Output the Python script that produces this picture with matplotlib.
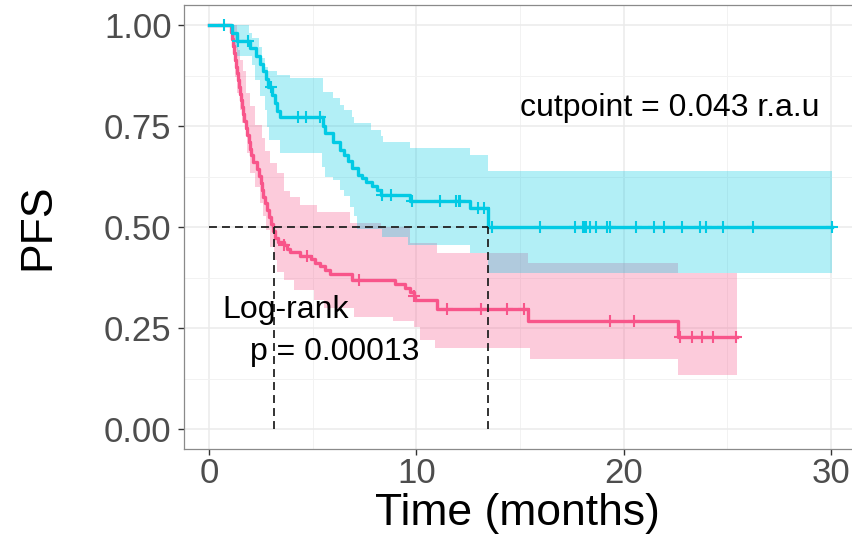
import numpy as np
import matplotlib
matplotlib.use("Agg")
import matplotlib.pyplot as plt

plt.rcParams['font.family'] = ['Liberation Sans', 'DejaVu Sans']

# ---- data (time in months, PFS) ----
# pink group (lower survival)
pink_t = [0, 1.05, 1.1, 1.15, 1.2, 1.25, 1.3, 1.36, 1.42, 1.47, 1.52, 1.56, 1.6,
          1.65, 1.7, 1.78, 1.85, 1.92, 1.98, 2.05, 2.15, 2.3, 2.4, 2.5, 2.56,
          2.62, 2.7, 2.78, 2.9, 3.0, 3.1, 3.2, 3.35, 3.6, 3.77, 3.93, 4.4, 4.9,
          5.13, 5.37, 5.6, 5.86, 6.9, 8.99, 9.47, 9.71, 9.87, 9.95, 11.0, 15.4,
          22.64]
pink_s = [1.0, 0.983, 0.966, 0.949, 0.932, 0.915, 0.898, 0.881, 0.864, 0.847,
          0.831, 0.814, 0.797, 0.780, 0.763, 0.746, 0.729, 0.712, 0.695, 0.678,
          0.661, 0.644, 0.627, 0.610, 0.593, 0.576, 0.559, 0.542, 0.525, 0.508,
          0.491, 0.474, 0.463, 0.455, 0.447, 0.439, 0.430, 0.421, 0.412, 0.403,
          0.394, 0.385, 0.370, 0.360, 0.350, 0.340, 0.330, 0.320, 0.298, 0.268,
          0.228]
pink_end = 25.45
pink_cens = [3.6, 4.75, 7.25, 9.9, 11.5, 13.1, 14.4, 15.2, 19.35, 20.5, 22.7,
             23.3, 23.8, 24.3, 25.4]
pink_up_t = [1.0, 1.35, 1.42, 1.5, 1.66, 1.8, 1.99, 2.2, 2.55, 2.72, 2.96, 3.28,
             3.6, 3.93, 4.4, 5.2, 6.8, 8.3, 9.7, 11.0, 15.4, 22.64]
pink_up_s = [1.0, 0.98, 0.94, 0.915, 0.886, 0.832, 0.80, 0.754, 0.72, 0.69,
             0.659, 0.634, 0.59, 0.576, 0.556, 0.539, 0.51, 0.50, 0.461, 0.436,
             0.411, 0.386]
pink_lo_t = [1.0, 1.12, 1.2, 1.28, 1.36, 1.48, 1.6, 1.84, 2.0, 2.2, 2.48, 2.6,
             2.75, 2.96, 3.12, 3.28, 3.6, 4.08, 5.05, 5.53, 7.0, 8.9, 9.87, 10.2,
             10.9, 15.5, 22.64]
pink_lo_s = [0.985, 0.956, 0.915, 0.873, 0.832, 0.791, 0.758, 0.683, 0.634, 0.60,
             0.56, 0.527, 0.494, 0.452, 0.419, 0.39, 0.37, 0.345, 0.32, 0.30,
             0.279, 0.267, 0.254, 0.221, 0.202, 0.174, 0.135]

# cyan group (higher survival)
cyan_t = [0, 1.1, 1.35, 2.0, 2.25, 2.45, 2.6, 2.75, 2.85, 3.05, 3.2, 3.3, 3.45,
          5.5, 5.6, 6.0, 6.3, 6.5, 6.7, 6.9, 7.2, 7.4, 7.6, 7.85, 8.1, 8.3, 9.7,
          12.6, 13.45]
cyan_s = [1.0, 0.981, 0.962, 0.943, 0.924, 0.905, 0.886, 0.867, 0.848, 0.828,
          0.809, 0.789, 0.772, 0.75, 0.733, 0.712, 0.692, 0.680, 0.665, 0.647,
          0.630, 0.622, 0.612, 0.603, 0.593, 0.580, 0.564, 0.547, 0.500]
cyan_end = 30.03
cyan_cens = [0.75, 1.4, 1.9, 3.0, 4.3, 4.7, 5.35, 8.35, 8.8, 9.8, 11.15, 11.9,
             12.05, 12.1, 13.0, 13.25, 13.65, 15.97, 17.66, 18.03, 18.1, 18.19,
             18.39, 18.66, 19.19, 19.35, 20.6, 21.48, 21.96, 22.8, 23.69, 23.96,
             24.81, 26.23, 30.03]
cyan_up_t = [1.1, 1.92, 2.08, 2.4, 2.55, 2.7, 2.87, 3.3, 3.93, 5.5, 6.0, 6.3,
             6.5, 6.9, 7.0, 7.8, 8.3, 8.4, 9.7, 12.6, 13.45]
cyan_up_s = [1.0, 0.98, 0.968, 0.947, 0.919, 0.898, 0.886, 0.877, 0.869, 0.835,
             0.82, 0.803, 0.79, 0.774, 0.758, 0.741, 0.725, 0.712, 0.696, 0.679,
             0.64]
cyan_lo_t = [1.1, 1.35, 2.08, 2.24, 2.48, 2.72, 2.8, 2.88, 3.45, 5.45, 5.6, 6.0,
             6.34, 6.5, 6.82, 6.98, 7.14, 8.35, 9.6, 12.6, 13.45]
cyan_lo_s = [0.945, 0.923, 0.902, 0.865, 0.824, 0.791, 0.749, 0.717, 0.685, 0.65,
             0.624, 0.617, 0.593, 0.578, 0.551, 0.527, 0.495, 0.477, 0.457,
             0.436, 0.386]

medians = [3.12, 13.45]

pink_col = '#F8558A'
cyan_col = '#02CAE4'


def step_at(t, knots, vals):
    idx = np.searchsorted(knots, t, side='right') - 1
    return np.asarray(vals)[np.clip(idx, 0, None)]


def band(ax, ut, us, lt, ls, t_end, col):
    grid = np.unique(np.concatenate([ut, lt, [t_end]]))
    up = step_at(grid, ut, us)
    lo = step_at(grid, lt, ls)
    ax.fill_between(grid, lo, up, step='post', color=col, alpha=0.3, lw=0)


def curve(ax, t, s, t_end, cens, col):
    ax.step(np.r_[t, t_end], np.r_[s, s[-1]], where='post', color=col, lw=2.4)
    ax.plot(cens, step_at(cens, t, s), ls='none', marker='+', ms=9, mew=1.5,
            color=col)


fig = plt.figure(figsize=(8.52, 5.4), dpi=100)
ax = fig.add_axes([0.216, 0.1678, 0.7958, 0.8226])

band(ax, pink_up_t, pink_up_s, pink_lo_t, pink_lo_s, pink_end, pink_col)
band(ax, cyan_up_t, cyan_up_s, cyan_lo_t, cyan_lo_s, cyan_end, cyan_col)
curve(ax, pink_t, pink_s, pink_end, pink_cens, pink_col)
curve(ax, cyan_t, cyan_s, cyan_end, cyan_cens, cyan_col)

# median lines
ax.plot([0, medians[1]], [0.5, 0.5], color='#222222', lw=1.3, ls=(0, (4.4, 2.8)))
for m in medians:
    ax.plot([m, m], [0, 0.5], color='#222222', lw=1.3, ls=(0, (4.4, 2.8)))

ax.text(22.24, 0.796, 'cutpoint = 0.043 r.a.u', fontsize=23, ha='center', va='center')
ax.text(0.63, 0.296, 'Log-rank', fontsize=23, ha='left', va='center')
ax.text(1.98, 0.192, 'p = 0.00013', fontsize=23, ha='left', va='center')

ax.set_xlim(-1.2, 31.5)
ax.set_ylim(-0.05, 1.05)
ax.set_xticks([0, 10, 20, 30])
ax.set_yticks([0, 0.25, 0.5, 0.75, 1.0])
ax.set_yticklabels(['0.00', '0.25', '0.50', '0.75', '1.00'])
ax.set_xticks([5, 15, 25], minor=True)
ax.set_yticks([0.125, 0.375, 0.625, 0.875], minor=True)
ax.grid(True, which='major', color='#EBEBEB', lw=1.1)
ax.grid(True, which='minor', color='#F2F2F2', lw=0.7)
ax.set_axisbelow(True)
ax.tick_params(which='major', labelsize=25, labelcolor='#4D4D4D', color='#333333',
               length=4, width=1)
ax.tick_params(axis='y', pad=5)
ax.tick_params(axis='x', pad=1.5)
ax.tick_params(which='minor', length=0)
for sp in ax.spines.values():
    sp.set_color('#8A8A8A')
    sp.set_linewidth(0.9)

fig.text(517 / 852, 1 - 513 / 540, 'Time (months)', fontsize=32, ha='center', va='center')
fig.text(38 / 852, 1 - 227 / 540, 'PFS', fontsize=32, ha='center', va='center',
         rotation=90)

fig.savefig('out.png', dpi=100)
